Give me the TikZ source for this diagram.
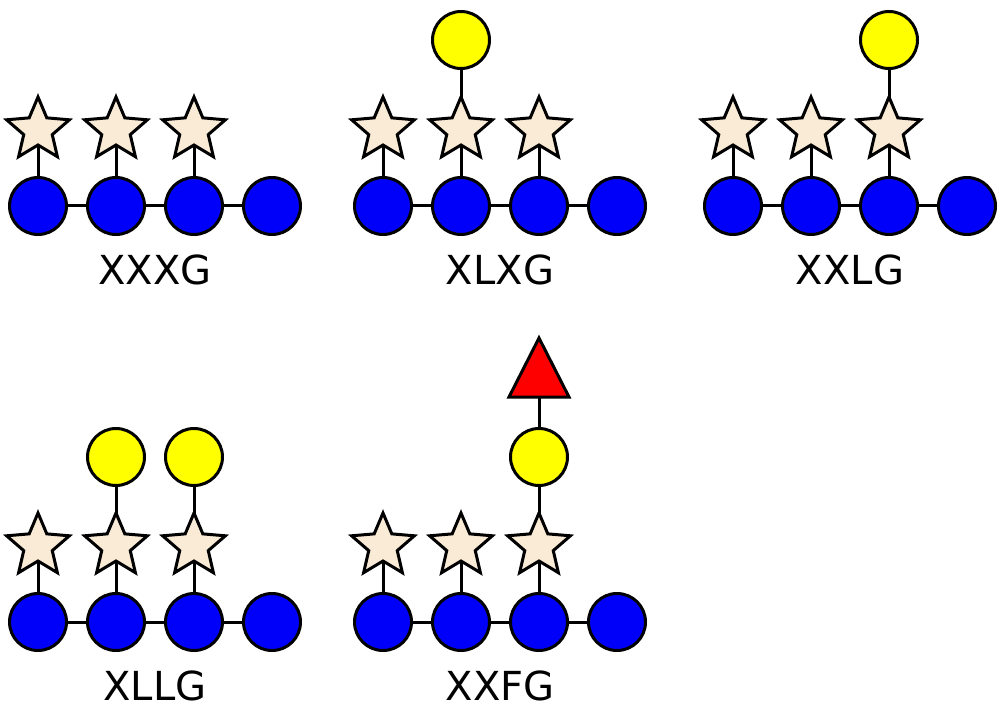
\documentclass[tikz,border=0pt]{standalone}
\usepackage{fontspec}
\setmainfont{DejaVu Sans}
\usetikzlibrary{shapes.geometric,backgrounds}
\definecolor{glc}{RGB}{0,0,250}
\definecolor{xyl}{RGB}{250,235,215}
\definecolor{gal}{RGB}{255,255,0}
\definecolor{fuc}{RGB}{255,0,0}
\begin{document}
\begin{tikzpicture}[x=1pt,y=-1pt,
  glcnode/.style={circle,draw,line width=3pt,fill=glc,minimum size=57pt,inner sep=0pt},
  galnode/.style={circle,draw,line width=3pt,fill=gal,minimum size=57pt,inner sep=0pt},
  xylnode/.style={star,star points=5,star point ratio=2.2,draw,line width=3pt,fill=xyl,minimum size=66pt,inner sep=0pt},
  fucnode/.style={draw,line width=3pt,fill=fuc,line join=miter},
  link/.style={line width=3pt},
  lab/.style={anchor=base,font=\fontsize{40}{42}\selectfont,inner sep=0pt}]
\useasboundingbox (0,0) rectangle (1004,714);
\foreach \g/\x/\y/\t in {a/38/206/XXXG,b/383/206/XLXG,c/733/206/XXLG,d/38/622/XLLG,e/383/622/XXFG}{
  \node[glcnode] (\g1) at (\x,\y) {};
  \node[glcnode] (\g2) at (\x+78,\y) {};
  \node[glcnode] (\g3) at (\x+156,\y) {};
  \node[glcnode] (\g4) at (\x+234,\y) {};
  \node[xylnode] (\g s1) at (\x,\y-76) {};
  \node[xylnode] (\g s2) at (\x+78,\y-76) {};
  \node[xylnode] (\g s3) at (\x+156,\y-76) {};
  \node[lab] (\g t) at (\x+117,\y+78) {\t};
  \begin{scope}[on background layer]
    \draw[link] (\g1) -- (\g2) -- (\g3) -- (\g4);
    \draw[link] (\g1.center) -- (\g s1.center);
    \draw[link] (\g2.center) -- (\g s2.center);
    \draw[link] (\g3.center) -- (\g s3.center);
  \end{scope}
}
\node[galnode] (bg) at (461,40) {};
\node[galnode] (cg) at (889,40) {};
\node[galnode] (dg2) at (116,457) {};
\node[galnode] (dg3) at (194,457) {};
\node[galnode] (eg) at (539,457) {};
\draw[fucnode] (509,397) -- (539,338) -- (569,397) -- cycle;
\coordinate (ef) at (539,397);
\begin{scope}[on background layer]
  \draw[link] (bs2.center) -- (bg);
  \draw[link] (cs3.center) -- (cg);
  \draw[link] (ds2.center) -- (dg2);
  \draw[link] (ds3.center) -- (dg3);
  \draw[link] (es3.center) -- (eg);
  \draw[link] (eg) -- (ef);
\end{scope}
\end{tikzpicture}
\end{document}
